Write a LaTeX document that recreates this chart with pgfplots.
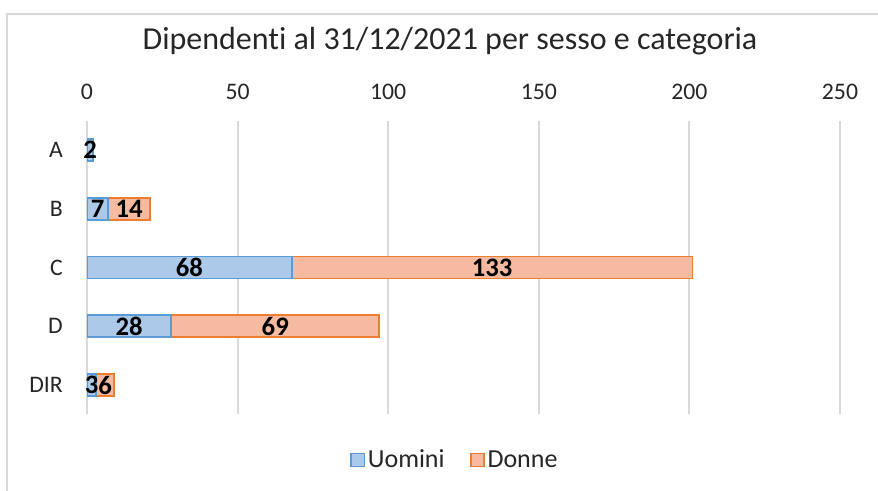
\documentclass[border=0pt]{standalone}
\usepackage{fontspec}
\setmainfont{Carlito}[Ligatures={NoCommon}]
\usepackage{pgfplots}
\pgfplotsset{compat=1.18}
\definecolor{ublue}{RGB}{172,201,234}
\definecolor{ubluedark}{RGB}{91,155,213}
\definecolor{dorange}{RGB}{246,186,160}
\definecolor{dorangedark}{RGB}{237,125,49}
\definecolor{gridgray}{RGB}{217,217,217}
\begin{document}
\begin{tikzpicture}
\path[use as bounding box] (0,0) rectangle (658.5pt,368.25pt);
\draw[gridgray, line width=1.5pt] (5.25pt,0) -- (5.25pt,357.75pt) -- (658.5pt,357.75pt);
\begin{axis}[
  at={(65.25pt,57.45pt)}, anchor=south west,
  scale only axis, width=564.75pt, height=220.3pt,
  xbar stacked, bar width=16.5pt,
  xmin=0, xmax=250, ymin=-0.5, ymax=4.5, y dir=reverse,
  ytick={0,1,2,3,4}, yticklabels={A,B,C,D,DIR},
  xtick={0,50,100,150,200,250},
  xticklabel pos=upper,
  axis line style={draw=none}, major tick length=0pt,
  xmajorgrids, grid style={gridgray, line width=1.5pt},
  /pgf/number format/assume math mode=true,
  tick label style={font=\fontsize{17.8}{20}\selectfont, text=black!85},
  xticklabel style={anchor=base, yshift=15.8pt},
  yticklabel style={anchor=east, inner sep=0pt, xshift=-18pt},
  title={Dipendenti al 31/12/2021 per sesso e categoria},
  title style={at={(axis description cs:0.482,1)}, anchor=base, yshift=47.7pt, font=\fontsize{24}{28}\selectfont, text=black!85},
  point meta=explicit symbolic,
  nodes near coords={\pgfplotspointmeta},
  every node near coord/.append style={anchor=center, font=\fontsize{20}{20}\selectfont\bfseries, text=black},
  legend columns=2,
  legend style={at={(axis description cs:0.489,0)}, anchor=center, yshift=-34.2pt, draw=none, font=\fontsize{19.5}{22}\selectfont, text=black!85,
    /tikz/every even column/.append style={column sep=17pt}},
  legend image code/.code={\draw[#1, line width=1.2pt] (0pt,-5pt) rectangle (10pt,5pt);},
]
\addplot[fill=ublue, draw=ubluedark, line width=1.3pt] coordinates {(7,1) [7] (68,2) [68] (28,3) [28] (3,4) [3] (2,0) [2]};
\addlegendentry{Uomini}
\addplot[fill=dorange, draw=dorangedark, line width=1.3pt] coordinates {(14,1) [14] (133,2) [133] (69,3) [69] (6,4) [6]};
\addlegendentry{Donne}
\end{axis}
\end{tikzpicture}
\end{document}
